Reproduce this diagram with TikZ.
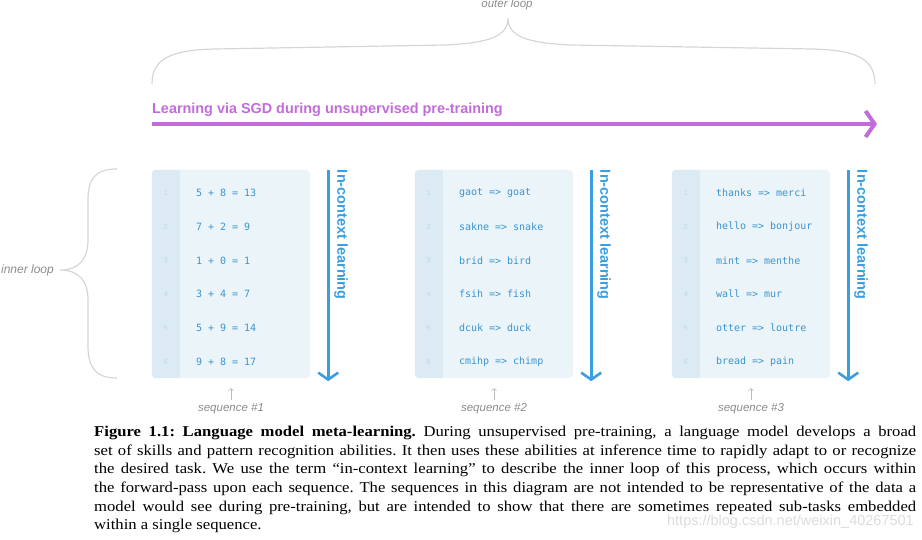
\documentclass[tikz,border=0pt]{standalone}
\usepackage{fontspec}
\setmainfont{Liberation Serif}
\setsansfont{Liberation Sans}
\setmonofont{DejaVu Sans Mono}
\newfontfamily\capfont[FakeStretch=1.11]{Liberation Serif}
\usetikzlibrary{positioning,arrows.meta,calc}
\definecolor{gptBlue}{HTML}{3A9EDF}
\definecolor{gptText}{HTML}{3B95D2}
\definecolor{gptBox}{HTML}{EBF4F8}
\definecolor{gptCol}{HTML}{DCEBF3}
\definecolor{gptNum}{HTML}{BFD5E2}
\definecolor{gptPurple}{HTML}{C36BDB}
\definecolor{gptGrey}{HTML}{D6D6D6}
\definecolor{gptLabel}{HTML}{8C8C8C}
\definecolor{gptMark}{HTML}{DCDCDC}

\begin{document}
\begin{tikzpicture}[
  x=1pt, y=-1pt,
  seqbox/.style={rectangle, rounded corners=4pt, fill=gptBox,
                 minimum width=158pt, minimum height=208pt, inner sep=0pt},
  rownum/.style={font=\sffamily\fontsize{7}{8}\selectfont, text=gptNum, inner sep=0pt},
  rowtxt/.style={font=\ttfamily\fontsize{10}{12}\selectfont, text=gptText, anchor=west, inner sep=0pt},
  icl/.style={-{Straight Barb[length=7pt,width=20pt]}, line width=2.6pt, gptBlue},
  icllabel/.style={font=\sffamily\bfseries\fontsize{14.5}{16}\selectfont, text=gptBlue,
                   rotate=-90, anchor=south west, inner sep=0pt},
  seqlabel/.style={font=\sffamily\itshape\fontsize{11.5}{13}\selectfont, text=gptLabel, inner sep=0pt},
  uparr/.style={-{Straight Barb[length=2pt,width=5pt]}, line width=0.6pt, gptLabel!60},
  curly/.style={gptGrey, line width=1.2pt}
]
  \useasboundingbox (0,0) rectangle (922,540);

  % outer loop
  \node[seqlabel] (outerlbl) at (507,5) {outer loop};
  \draw[curly] (152,84) .. controls (152,58) and (172,50) .. (215,49) -- (445,45)
     .. controls (490,43) and (508,36) .. (508,18)
     .. controls (508,36) and (526,43) .. (571,45) -- (812,49)
     .. controls (855,50) and (875,58) .. (875,84);

  % SGD arrow
  \coordinate (sgdA) at (152,124);
  \coordinate (sgdB) at (877,124);
  \draw[-{Straight Barb[length=9pt,width=26pt]}, line width=4pt, gptPurple] (sgdA) -- (sgdB);
  \node[font=\sffamily\bfseries\fontsize{14.4}{16}\selectfont, text=gptPurple, inner sep=0pt,
        above right=7pt and 0pt of sgdA] (sgdtxt) {Learning via SGD during unsupervised pre-training};

  % inner loop
  \draw[curly] (117,169) .. controls (96,169) and (88,178) .. (88,200) -- (88,240)
     .. controls (88,260) and (78,270) .. (60,270)
     .. controls (78,270) and (88,280) .. (88,300) -- (88,346)
     .. controls (88,368) and (96,378) .. (117,378);
  \node[seqlabel, font=\sffamily\itshape\fontsize{12}{14}\selectfont, anchor=east] (innerlbl) at (54,270) {inner loop};

  % sequences
  \node[seqbox] (seq1) at (231,274) {};
  \node[seqbox] (seq2) at (494,274) {};
  \node[seqbox] (seq3) at (751,274) {};
  \foreach \s in {seq1,seq2,seq3}
    \fill[gptCol] ($(\s.north west)+(28,0)$) [rounded corners=4pt] -- (\s.north west)
       -- (\s.south west) [sharp corners] -- ($(\s.south west)+(28,0)$) -- cycle;

  \foreach \t [count=\i] in {5 + 8 = 13, 7 + 2 = 9, 1 + 0 = 1, 3 + 4 = 7, 5 + 9 = 14, 9 + 8 = 17} {
    \node[rownum] (s1n\i) at ($(seq1.north west)+(14,23+33.8*\i-33.8)$) {\i};
    \node[rowtxt] (s1t\i) at ($(seq1.north west)+(44,23+33.8*\i-33.8)$) {\t};
  }
  \foreach \t [count=\i] in {gaot => goat, sakne => snake, brid => bird, fsih => fish, dcuk => duck, cmihp => chimp} {
    \node[rownum] (s2n\i) at ($(seq2.north west)+(14,23+33.8*\i-33.8)$) {\i};
    \node[rowtxt] (s2t\i) at ($(seq2.north west)+(44,23+33.8*\i-33.8)$) {\t};
  }
  \foreach \t [count=\i] in {thanks => merci, hello => bonjour, mint => menthe, wall => mur, otter => loutre, bread => pain} {
    \node[rownum] (s3n\i) at ($(seq3.north west)+(14,23+33.8*\i-33.8)$) {\i};
    \node[rowtxt] (s3t\i) at ($(seq3.north west)+(44,23+33.8*\i-33.8)$) {\t};
  }

  % in-context learning arrows
  \foreach \s in {1,2,3} {
    \coordinate (icl\s a) at ([xshift=18pt]seq\s.north east);
    \coordinate (icl\s b) at ([xshift=18pt,yshift=-3pt]seq\s.south east);
    \draw[icl] (icl\s a) -- (icl\s b);
    \node[icllabel] (icl\s t) at ([xshift=24pt]seq\s.north east) {In-context learning};
    \node[seqlabel, below=25pt of seq\s] (lbl\s) {sequence \#\s};
    \draw[uparr, shorten <=3pt, shorten >=10pt] (lbl\s.north) -- (seq\s.south);
  }

  % caption
  \node[anchor=north west, inner sep=0pt, text width=822pt, align=justify,
        font=\capfont\frenchspacing\fontsize{15}{18.6}\selectfont] (caption) at (94,426)
  {\textbf{Figure 1.1: Language model meta-learning.} During unsupervised pre-training, a language model develops a broad\linebreak
   set of skills and pattern recognition abilities. It then uses these abilities at inference time to rapidly adapt to or recognize\linebreak
   the desired task. We use the term “in-context learning” to describe the inner loop of this process, which occurs within\linebreak
   the forward-pass upon each sequence. The sequences in this diagram are not intended to be representative of the data a\linebreak
   model would see during pre-training, but are intended to show that there are sometimes repeated sub-tasks embedded\linebreak
   within a single sequence.};
  \node[anchor=east, inner sep=0pt, text=gptMark, font=\sffamily\fontsize{14.5}{16}\selectfont] (mark) at (914,522)
  {https://blog.csdn.net/weixin\_40267501};
\end{tikzpicture}
\end{document}
